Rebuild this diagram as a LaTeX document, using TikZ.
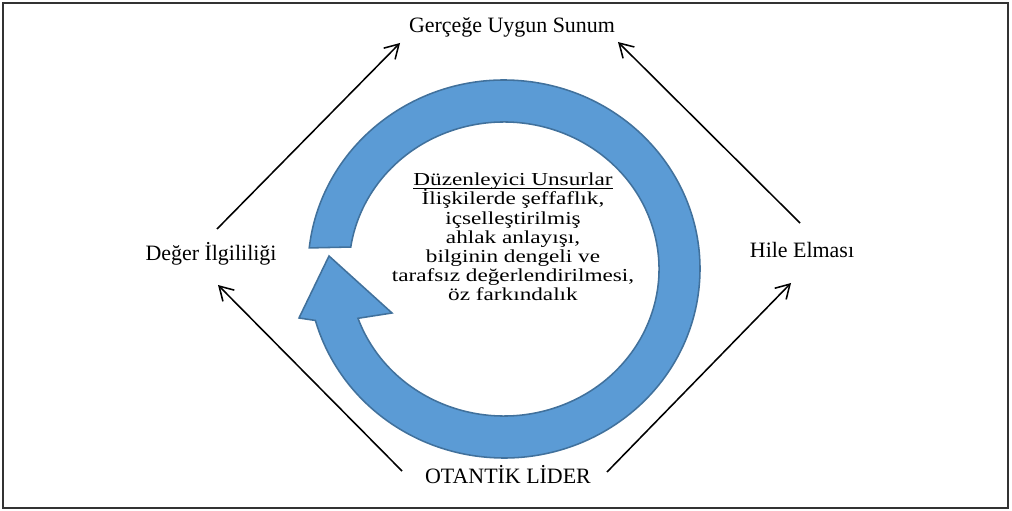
\documentclass[tikz,border=0pt]{standalone}
\usepackage{fontspec}
\setmainfont{Liberation Serif}
\newfontfamily\midfont{Liberation Serif}[FakeStretch=1.27]
\usetikzlibrary{arrows.meta}
\definecolor{ringfill}{HTML}{5B9BD5}
\definecolor{ringline}{HTML}{41719C}
\newcommand{\ulbox}[1]{{\setbox0\hbox{#1}\rlap{\rule[-2.2pt]{\wd0}{0.6pt}}\box0}}

\begin{document}
\begin{tikzpicture}[x=0.025cm, y=-0.025cm,
  lbl/.style={font=\fontsize{15.6}{18}\selectfont, inner sep=0, anchor=base},
  link/.style={line width=1.1pt, -{Straight Barb[length=3.4mm, width=4mm]}}]
\useasboundingbox (0,0) rectangle (1012,511);
\draw[line width=0.9pt, black!80] (3,3) rectangle (1008,508);
% ring with arrow head
\filldraw[fill=ringfill, draw=ringline, line width=1.1pt]
  ({504+196*cos(186.4)},{269+189*sin(186.4)}) arc[start angle=186.4, end angle=524.2, x radius=196, y radius=189]
  -- (299,318) -- (329,256) -- (392,313)
  -- ({504+155*cos(520.4)},{269+147*sin(520.4)}) arc[start angle=520.4, end angle=188.6, x radius=155, y radius=147]
  -- cycle;
\node[font={\midfont\fontsize{13}{13.66}\selectfont\lineskiplimit=-20pt\relax}, align=center, inner sep=0] (duz) at (513,237)
  {\ulbox{Düzenleyici Unsurlar}\\İlişkilerde şeffaflık,\\içselleştirilmiş\\ahlak anlayışı,\\bilginin dengeli ve\\tarafsız değerlendirilmesi,\\öz farkındalık};
\node[lbl] (gus) at (512,33) {Gerçeğe Uygun Sunum};
\node[lbl] (deg) at (211,261) {Değer İlgililiği};
\node[lbl] (hile) at (802,258) {Hile Elması};
\node[lbl] (lider) at (508,483) {OTANTİK LİDER};
\coordinate (gus-l) at (400,43);
\coordinate (gus-r) at (618,42);
\coordinate (deg-t) at (217,229);
\coordinate (deg-b) at (218,285);
\coordinate (hile-t) at (800,223);
\coordinate (hile-b) at (791,283);
\coordinate (lider-l) at (402,471);
\coordinate (lider-r) at (607,472);
\draw[link] (deg-t) -- (gus-l);
\draw[link] (hile-t) -- (gus-r);
\draw[link] (lider-l) -- (deg-b);
\draw[link] (lider-r) -- (hile-b);
\end{tikzpicture}
\end{document}
